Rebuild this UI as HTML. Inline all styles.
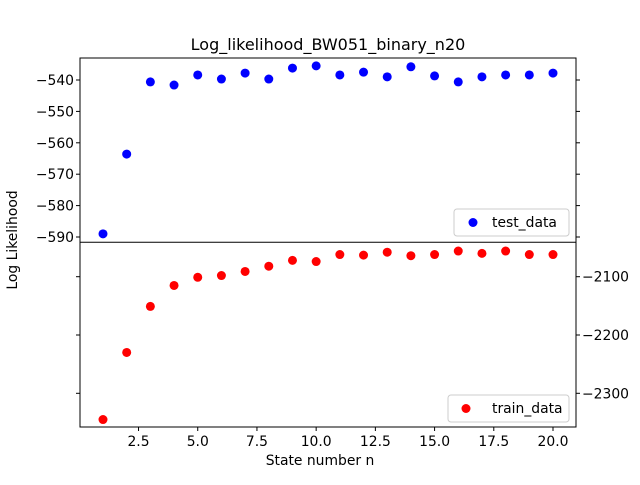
<!DOCTYPE html>
<html><head><meta charset="utf-8"><style>
body{margin:0;background:#fff;}
svg{font-family:"DejaVu Sans","Liberation Sans",sans-serif;}
</style></head><body>
<svg width="640" height="480" viewBox="0 0 640 480">
<rect width="640" height="480" fill="#fff"/>
<g id="g"></g>
</svg>
<script>
const nValues=[1,2,3,4,5,6,7,8,9,10,11,12,13,14,15,16,17,18,19,20];
const testValues=[-589,-563.6,-540.6,-541.6,-538.4,-539.7,-537.8,-539.7,-536.2,-535.5,-538.4,-537.5,-539,-535.8,-538.7,-540.6,-539,-538.4,-538.4,-537.8];
const trainValues=[-2345,-2230,-2151,-2115,-2101,-2098,-2091,-2082,-2072,-2074,-2062,-2063,-2058,-2064,-2062,-2056,-2060,-2056,-2062,-2062];
const xTicks=[2.5,5.0,7.5,10.0,12.5,15.0,17.5,20.0];
const testTicks=[-540,-550,-560,-570,-580,-590];
const trainTicks=[-2100,-2200,-2300];
const NS="http://www.w3.org/2000/svg";
const g=document.getElementById('g');
const L=80,R=576,T=58,M=242.3,B=427;
const x=v=>103+(v-1)*(553-103)/19;
const yTest=v=>80+(-540-v)*3.14;
const yTrain=v=>276.7+(-2100-v)*0.583;
function el(t,a,txt){const e=document.createElementNS(NS,t);for(const k in a)e.setAttribute(k,a[k]);if(txt!==undefined)e.textContent=txt;g.appendChild(e);return e;}
let f=el('rect',{x:L,y:T,width:R-L,height:B-T,fill:'none',stroke:'#000','stroke-width':1});

let d=el('line',{x1:L,x2:R,y1:M,y2:M,stroke:'#000','stroke-width':1});

xTicks.forEach(v=>{
 el('line',{x1:x(v),x2:x(v),y1:B,y2:B+4,stroke:'#000'});
 let t=el('text',{x:x(v),y:B+19,'font-size':13.9,'text-anchor':'middle'},v.toFixed(1));
 
});
testTicks.forEach(v=>{
 const yy=yTest(v);
 el('line',{x1:L-4,x2:L,y1:yy,y2:yy,stroke:'#000'});
 el('line',{x1:R,x2:R+4,y1:yy,y2:yy,stroke:'#000'});
 let t=el('text',{x:L-6,y:yy+5,'font-size':13.9,'text-anchor':'end'},'\u2212'+Math.abs(v));
 
});
trainTicks.forEach(v=>{
 const yy=yTrain(v);
 el('line',{x1:L-4,x2:L,y1:yy,y2:yy,stroke:'#000'});
 el('line',{x1:R,x2:R+4,y1:yy,y2:yy,stroke:'#000'});
 let t=el('text',{x:R+6,y:yy+5,'font-size':13.9,'text-anchor':'start'},'\u2212'+Math.abs(v));
 
});
nValues.forEach((n,i)=>{
 let c=el('circle',{cx:x(n),cy:yTest(testValues[i]),r:4.5,fill:'#0000ff'});
 
 let c2=el('circle',{cx:x(n),cy:yTrain(trainValues[i]),r:4.5,fill:'#ff0000'});
 
});
let ti=el('text',{x:328,y:50,'font-size':16,'text-anchor':'middle'},'Log_likelihood_BW051_binary_n20');

let xl=el('text',{x:320,y:465,'font-size':13.9,'text-anchor':'middle'},'State number n');

let yl=el('text',{x:17,y:240,'font-size':13.9,'text-anchor':'middle',transform:'rotate(-90 17 240)'},'Log Likelihood');

let lb=el('rect',{x:454,y:209,width:115,height:27,rx:3,fill:'#fff','fill-opacity':0.8,stroke:'#ccc'});

el('circle',{cx:473,cy:222.5,r:4.5,fill:'#0000ff'});
let lt=el('text',{x:492,y:227,'font-size':13.9},'test_data');

let lb2=el('rect',{x:448,y:395,width:121,height:27,rx:3,fill:'#fff','fill-opacity':0.8,stroke:'#ccc'});

el('circle',{cx:466,cy:408.5,r:4.5,fill:'#ff0000'});
let lt2=el('text',{x:492,y:413,'font-size':13.9},'train_data');

</script>
</body></html>
